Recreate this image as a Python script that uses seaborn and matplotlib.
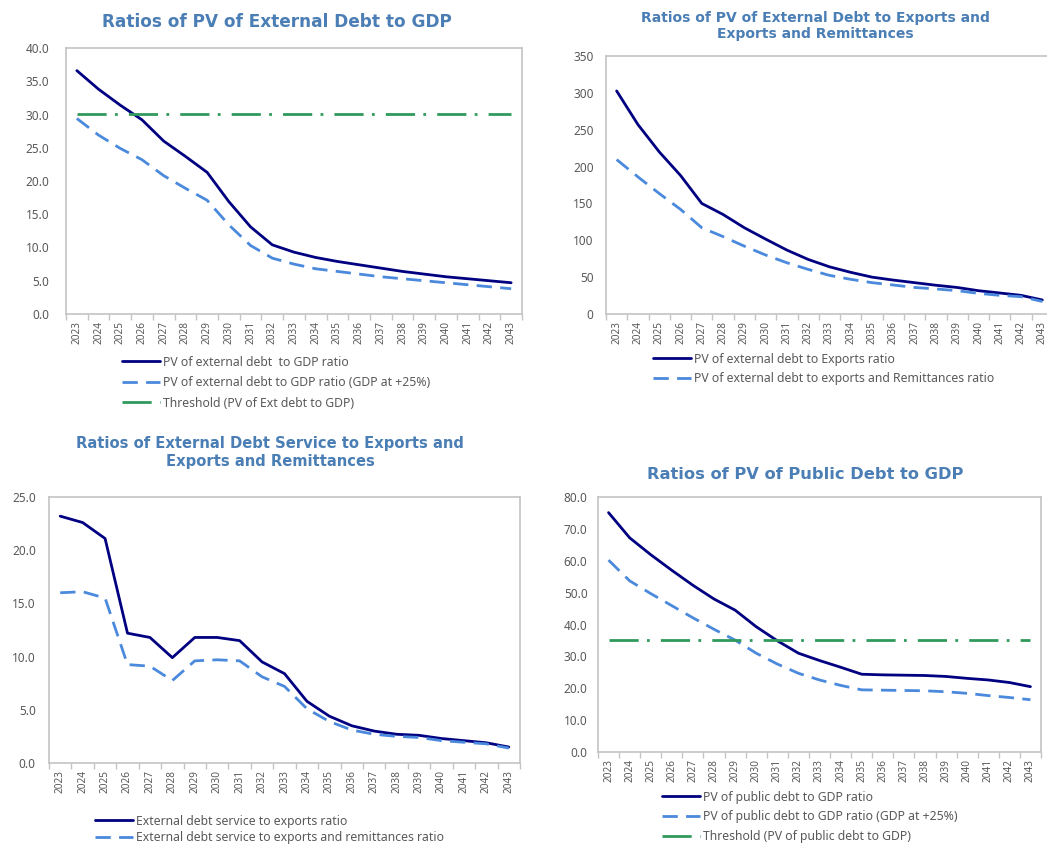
import numpy as np
import pandas as pd
import matplotlib
matplotlib.use("Agg")
import matplotlib.pyplot as plt
import seaborn as sns
from matplotlib.ticker import FixedLocator, FormatStrFormatter, MultipleLocator

# ---------------- data ----------------
years = ["2023", "2024", "2025", "2026", "2027", "2028", "2029", "2030", "2031", "2032",
         "2033", "2034", "2035", "2036", "2037", "2038", "2039", "2040", "2041", "2042", "2043"]

# Panel 1: PV of external debt to GDP
pv_ext_gdp = [36.6, 33.8, 31.4, 29.2, 26.0, 23.7, 21.3, 16.9, 13.1, 10.4, 9.3,
              8.5, 7.9, 7.4, 6.9, 6.4, 6.0, 5.6, 5.3, 5.0, 4.7]
pv_ext_gdp_25 = [29.4, 26.9, 24.9, 23.2, 20.8, 18.9, 17.1, 13.4, 10.3, 8.4, 7.5,
                 6.8, 6.4, 6.0, 5.6, 5.3, 5.0, 4.7, 4.4, 4.1, 3.8]
ext_gdp_threshold = 30.0

# Panel 2: PV of external debt to exports / exports and remittances
pv_ext_exports = [302.6, 257.0, 220.0, 188.0, 150.0, 135.0, 117.0, 101.6, 86.7, 74.0, 64.0,
                  56.5, 50.0, 46.0, 42.5, 39.0, 36.0, 31.6, 28.5, 25.3, 19.0]
pv_ext_exports_rem = [209.5, 186.0, 163.5, 142.0, 117.0, 105.0, 92.0, 80.0, 69.5, 60.5, 52.4,
                      47.0, 42.5, 39.3, 36.0, 34.0, 31.6, 28.0, 25.3, 23.5, 17.0]

# Panel 3: external debt service to exports / exports and remittances
ds_exports = [23.2, 22.6, 21.1, 12.2, 11.8, 9.9, 11.8, 11.8, 11.5, 9.5, 8.4,
              5.8, 4.4, 3.5, 3.0, 2.7, 2.6, 2.3, 2.1, 1.9, 1.5]
ds_exports_rem = [16.0, 16.1, 15.5, 9.25, 9.1, 7.75, 9.6, 9.7, 9.6, 8.1, 7.2,
                  5.1, 3.9, 3.1, 2.7, 2.5, 2.4, 2.1, 1.95, 1.8, 1.4]

# Panel 4: PV of public debt to GDP
pv_pub_gdp = [75.1, 67.2, 61.9, 57.0, 52.3, 48.0, 44.5, 39.3, 34.9, 31.0, 28.7,
              26.6, 24.4, 24.2, 24.1, 24.0, 23.7, 23.1, 22.6, 21.8, 20.5]
pv_pub_gdp_25 = [60.2, 53.7, 49.7, 45.9, 42.1, 38.5, 35.1, 31.0, 27.6, 24.7, 22.6,
                 20.9, 19.5, 19.4, 19.3, 19.2, 18.9, 18.4, 17.7, 17.1, 16.4]
pub_gdp_threshold = 35.0

# ---------------- style ----------------
sns.set_theme(style="white")
plt.rcParams["font.family"] = ["Noto Sans", "DejaVu Sans"]

NAVY = "#000080"
LIGHT = "#4a89dc"
GREEN = "#2f9a5c"
TITLE_C = "#4a7eb5"
TEXT_C = "#595959"
FRAME_C = "#c4c4c4"

SOLID = "-"
DASHED = (0, (5.5, 3))
DASHDOT = (0, (10.5, 3, 1, 4))

W, H = 1047, 846
fig = plt.figure(figsize=(W / 100, H / 100), dpi=100)


def px_axes(left, top, right, bottom):
    return fig.add_axes([left / W, 1 - bottom / H, (right - left) / W, (bottom - top) / H])


def draw_panel(ax, series, ymax, ystep, yfmt, ypad):
    x = np.arange(len(years))
    for vals, color, ls, label in series:
        df = pd.DataFrame({"year_pos": x, "value": vals})
        sns.lineplot(data=df, x="year_pos", y="value", ax=ax, color=color,
                     linewidth=2.0, linestyle=ls, label=label, legend=False)
    ax.set_xlim(-0.5, len(years) - 0.5)
    ax.set_ylim(0, ymax)
    ax.yaxis.set_major_locator(MultipleLocator(ystep))
    ax.yaxis.set_major_formatter(FormatStrFormatter(yfmt))
    ax.xaxis.set_major_locator(FixedLocator(x))
    ax.set_xticklabels(years, rotation=90)
    ax.xaxis.set_minor_locator(FixedLocator(np.arange(-0.5, len(years), 1.0)))
    ax.tick_params(axis="x", which="major", length=0, pad=5, labelsize=7.2, labelcolor=TEXT_C)
    ax.tick_params(axis="x", which="minor", length=4, width=1, color=FRAME_C, bottom=True)
    ax.tick_params(axis="y", length=0, pad=ypad, labelsize=8.5, labelcolor=TEXT_C)
    ax.set_xlabel("")
    ax.set_ylabel("")
    for s in ax.spines.values():
        s.set_color(FRAME_C)
        s.set_linewidth(1.2)
    ax.grid(False)


def add_legend(ax, hx, top_y, spacing):
    handles, labels = ax.get_legend_handles_labels()
    ax.legend(handles, labels, loc="upper left",
              bbox_to_anchor=(hx / W, 1 - top_y / H), bbox_transform=fig.transFigure,
              frameon=False, fontsize=8.8, labelcolor=TEXT_C, handlelength=3.1,
              handletextpad=0.25, labelspacing=spacing, borderpad=0, borderaxespad=0)


# Panel 1
ax1 = px_axes(66, 48, 522, 314)
draw_panel(ax1, [
    (pv_ext_gdp, NAVY, SOLID, "PV of external debt  to GDP ratio"),
    (pv_ext_gdp_25, LIGHT, DASHED, "PV of external debt to GDP ratio (GDP at +25%)"),
    ([ext_gdp_threshold] * len(years), GREEN, DASHDOT, "Threshold (PV of Ext debt to GDP)"),
], 40, 5, "%.1f", 12)
add_legend(ax1, 122, 355.5, 0.62)

# Panel 2
ax2 = px_axes(606, 56, 1053, 314)
draw_panel(ax2, [
    (pv_ext_exports, NAVY, SOLID, "PV of external debt to Exports ratio"),
    (pv_ext_exports_rem, LIGHT, DASHED, "PV of external debt to exports and Remittances ratio"),
], 350, 50, "%.0f", 9)
add_legend(ax2, 653, 352.5, 0.55)

# Panel 3
ax3 = px_axes(49, 497, 520, 763)
draw_panel(ax3, [
    (ds_exports, NAVY, SOLID, "External debt service to exports ratio"),
    (ds_exports_rem, LIGHT, DASHED, "External debt service to exports and remittances ratio"),
], 25, 5, "%.1f", 9.5)
add_legend(ax3, 95, 814.5, 0.32)

# Panel 4
ax4 = px_axes(598, 497, 1041, 752)
draw_panel(ax4, [
    (pv_pub_gdp, NAVY, SOLID, "PV of public debt to GDP ratio"),
    (pv_pub_gdp_25, LIGHT, DASHED, "PV of public debt to GDP ratio (GDP at +25%)"),
    ([pub_gdp_threshold] * len(years), GREEN, DASHDOT, "Threshold (PV of public debt to GDP)"),
], 80, 10, "%.1f", 7.5)
add_legend(ax4, 662, 790.5, 0.55)

# Titles
tkw = dict(ha="center", va="center", color=TITLE_C, fontweight="bold",
           family=["DejaVu Sans"])
fig.text(277 / W, 1 - 22 / H, "Ratios of PV of External Debt to GDP", fontsize=12.2, **tkw)
fig.text(815 / W, 1 - 26 / H, "Ratios of PV of External Debt to Exports and\nExports and Remittances",
         fontsize=10.0, linespacing=1.25, **tkw)
fig.text(270 / W, 1 - 452.5 / H, "Ratios of External Debt Service to Exports and\nExports and Remittances",
         fontsize=10.6, linespacing=1.2, **tkw)
fig.text(805 / W, 1 - 474 / H, "Ratios of PV of Public Debt to GDP", fontsize=11.7, **tkw)

fig.savefig("out.png", dpi=100)
